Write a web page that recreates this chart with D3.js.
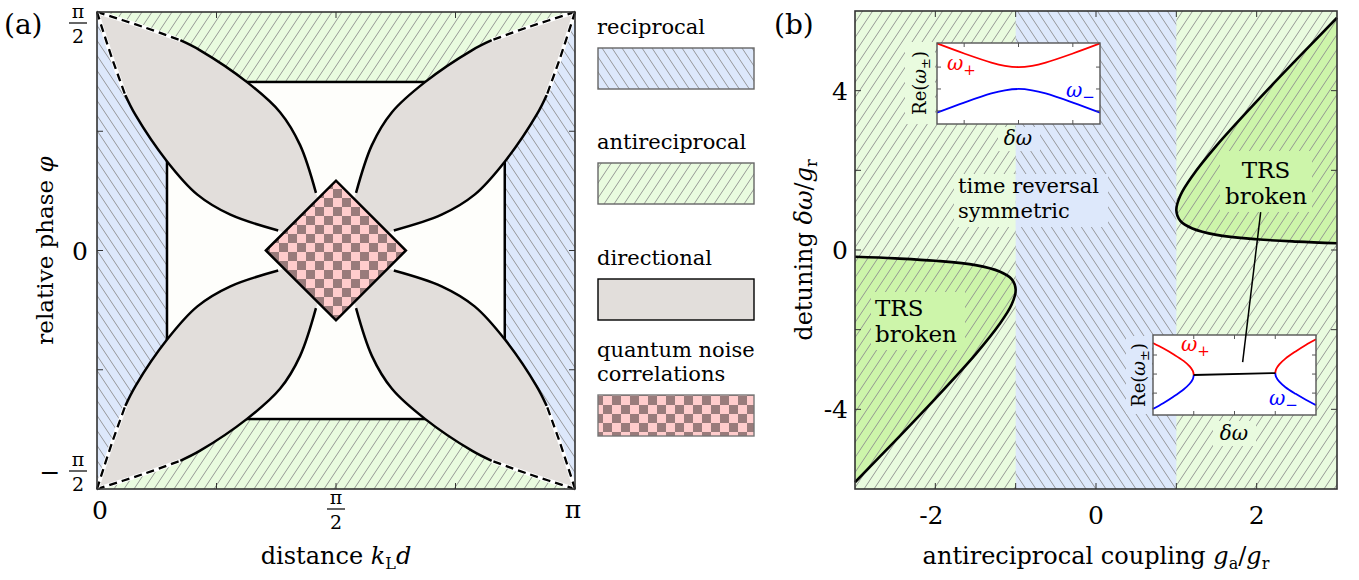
<!DOCTYPE html>
<html>
<head>
<meta charset="utf-8">
<script src="https://cdn.jsdelivr.net/npm/d3@7"></script>
<style>
  body { margin: 0; background: #fff; }
</style>
</head>
<body>
<div id="chart"></div>
<script>
const PI = Math.PI;

// ---------- panel (a): phase diagram over (k_L d, phi) ----------
const kdTicks = [0, PI / 4, PI / 2, 3 * PI / 4, PI];
const phiTicks = [-PI / 2, -PI / 4, 0, PI / 4, PI / 2];
const petalEdge = [[0, 1.571], [0.302, 1.473], [0.547, 1.385], [0.675, 1.320],
  [0.986, 1.109], [1.203, 0.911], [1.335, 0.694], [1.439, 0.380]];
const dashedUpTo = 2;
const innerBox = [0.46, 2.68, -1.11, 1.11];  // kd0, kd1, phi0, phi1
const noiseDiamond = [[1.11, 0], [PI / 2, 0.46], [2.03, 0], [PI / 2, -0.46]];
const legendNames = ["reciprocal", "antireciprocal", "directional", "quantum noise", "correlations"];

// ---------- panel (b): g_a/g_r vs detuning ----------
const gaTicks = [-3, -2, -1, 0, 1, 2, 3];
const gaLabels = [-2, 0, 2];
const dwTicks = [-6, -4, -2, 0, 2, 4, 6];
const dwLabels = [-4, 0, 4];
const recipBand = [-1, 1];
const trsLeft = [[-3, -0.17], [-2.5, -0.21], [-2, -0.27], [-1.5, -0.38], [-1.2, -0.54], [-1.05, -0.73],
  [-1, -1], [-1.05, -1.37], [-1.2, -1.86], [-1.5, -2.62], [-2, -3.73], [-2.5, -4.79], [-3, -5.83]];
const trsRight = [[3, 5.83], [2.5, 4.79], [2, 3.73], [1.5, 2.62], [1.2, 1.86], [1.05, 1.37],
  [1, 1], [1.05, 0.73], [1.2, 0.54], [1.5, 0.38], [2, 0.27], [2.5, 0.21], [3, 0.17]];

// inset 1 (reciprocal side): avoided crossing
const in1Dw = [-3, -2, -1, -0.5, 0, 0.5, 1, 2, 3];
const in1Plus = [3.16, 2.24, 1.41, 1.12, 1, 1.12, 1.41, 2.24, 3.16];
const in1Minus = [-3.16, -2.24, -1.41, -1.12, -1, -1.12, -1.41, -2.24, -3.16];
// inset 2 (TRS broken): level attraction
const in2DwL = [-2, -1.75, -1.5, -1.25, -1.1, -1.02, -1];
const in2PlusL = [1.63, 1.35, 1.04, 0.69, 0.40, 0.15, -0.05];
const in2MinusL = [-1.83, -1.53, -1.19, -0.81, -0.51, -0.25, -0.05];
const in2DwR = [1, 1.02, 1.1, 1.25, 1.5, 1.75, 2];
const in2PlusR = [0.05, 0.25, 0.51, 0.81, 1.19, 1.53, 1.83];
const in2MinusR = [0.05, -0.15, -0.40, -0.69, -1.04, -1.35, -1.63];
const in2Flat = [[-1, -0.05], [1, 0.05]];

// colours
const blueBg = "#dde8fb", greenBg = "#e9fbdf", trsBg = "#cdf5aa", petalFill = "#e2dedb";
const FONT = "DejaVu Serif";

const svg = d3.select("#chart").append("svg").attr("width", 1359).attr("height", 580)
  .attr("font-family", FONT);
const defs = svg.append("defs");

function hatch(id, bg, dir) {
  const p = defs.append("pattern").attr("id", id)
    .attr("patternUnits", "userSpaceOnUse").attr("width", 10).attr("height", 15);
  p.append("rect").attr("width", 10).attr("height", 15).attr("fill", bg);
  const d = dir > 0 ? "M0,15L10,0M-1,1.5L1,-1.5M9,16.5L11,13.5" : "M0,0L10,15M-1,13.5L1,16.5M9,-1.5L11,1.5";
  p.append("path").attr("d", d).attr("stroke", "#8d8d8d").attr("stroke-width", 0.9).attr("fill", "none");
}
hatch("hBlue", blueBg, -1);
hatch("hGreen", greenBg, 1);
hatch("hTrs", trsBg, 1);

const ck = defs.append("pattern").attr("id", "checker")
  .attr("patternUnits", "userSpaceOnUse").attr("width", 18).attr("height", 18);
ck.append("rect").attr("width", 18).attr("height", 18).attr("fill", "#ffcccc");
ck.append("rect").attr("width", 9).attr("height", 9).attr("fill", "#997b7b");
ck.append("rect").attr("x", 9).attr("y", 9).attr("width", 9).attr("height", 9).attr("fill", "#997b7b");

function txt(g, x, y, size, s) {
  return g.append("text").attr("x", x).attr("y", y).attr("font-family", FONT)
    .attr("font-size", size).text(s);
}

// ================= panel (a) =================
const A = {x0: 97, x1: 575, y0: 12, y1: 489};
const xa = d3.scaleLinear().domain([0, PI]).range([A.x0, A.x1]);
const ya = d3.scaleLinear().domain([-PI / 2, PI / 2]).range([A.y1, A.y0]);
const ga = svg.append("g");

const poly = pts => "M" + pts.map(d => xa(d[0]) + "," + ya(d[1])).join("L") + "Z";
const [k0, k1, p0, p1] = innerBox;
ga.append("path").attr("d", poly([[0, PI / 2], [PI, PI / 2], [k1, p1], [k0, p1]])).attr("fill", "url(#hGreen)");
ga.append("path").attr("d", poly([[0, -PI / 2], [PI, -PI / 2], [k1, p0], [k0, p0]])).attr("fill", "url(#hGreen)");
ga.append("path").attr("d", poly([[0, PI / 2], [k0, p1], [k0, p0], [0, -PI / 2]])).attr("fill", "url(#hBlue)");
ga.append("path").attr("d", poly([[PI, PI / 2], [k1, p1], [k1, p0], [PI, -PI / 2]])).attr("fill", "url(#hBlue)");

ga.append("rect")
  .attr("x", xa(k0)).attr("y", ya(p1))
  .attr("width", xa(k1) - xa(k0)).attr("height", ya(p0) - ya(p1))
  .attr("fill", "#fefefb").attr("stroke", "#000").attr("stroke-width", 2.5);

const curve = d3.line().x(d => xa(d[0])).y(d => ya(d[1])).curve(d3.curveCatmullRom.alpha(0.5));
const mirrorDiag = d => [PI / 2 - d[1], PI / 2 - d[0]];
const transforms = [d => d, d => [PI - d[0], d[1]], d => [d[0], -d[1]], d => [PI - d[0], -d[1]]];

const petals = transforms.map(T => {
  const a = petalEdge.map(T);
  const b = petalEdge.map(mirrorDiag).map(T);
  return {a, b};
});

petals.forEach(({a, b}) => {
  const back = b.slice().reverse();
  const d = curve(a) + "L" + xa(PI / 2) + "," + ya(0) + curve(back).replace(/^M/, "L") + "Z";
  ga.append("path").attr("d", d).attr("fill", petalFill);
});

petals.forEach(({a, b}) => {
  [a, b].forEach(pts => {
    ga.append("path").attr("d", curve(pts.slice(dashedUpTo)))
      .attr("fill", "none").attr("stroke", "#000").attr("stroke-width", 2.5);
    ga.append("path").attr("d", curve(pts.slice(0, dashedUpTo + 1)))
      .attr("fill", "none").attr("stroke", "#fff").attr("stroke-width", 4);
    ga.append("path").attr("d", curve(pts.slice(0, dashedUpTo + 1)))
      .attr("fill", "none").attr("stroke", "#000").attr("stroke-width", 2.3)
      .attr("stroke-dasharray", "8,5");
  });
});

ga.append("path").attr("d", poly(noiseDiamond))
  .attr("fill", "url(#checker)").attr("stroke", "#000").attr("stroke-width", 2.5)
  .attr("stroke-linejoin", "miter");

// frame + ticks
ga.append("rect").attr("x", A.x0).attr("y", A.y0)
  .attr("width", A.x1 - A.x0).attr("height", A.y1 - A.y0)
  .attr("fill", "none").attr("stroke", "#333").attr("stroke-width", 1.6);
kdTicks.slice(1, -1).forEach(v => {
  ga.append("line").attr("x1", xa(v)).attr("x2", xa(v)).attr("y1", A.y1).attr("y2", A.y1 - 6).attr("stroke", "#333");
  ga.append("line").attr("x1", xa(v)).attr("x2", xa(v)).attr("y1", A.y0).attr("y2", A.y0 + 6).attr("stroke", "#333");
});
phiTicks.slice(1, -1).forEach(v => {
  ga.append("line").attr("x1", A.x0).attr("x2", A.x0 + 6).attr("y1", ya(v)).attr("y2", ya(v)).attr("stroke", "#333");
  ga.append("line").attr("x1", A.x1).attr("x2", A.x1 - 6).attr("y1", ya(v)).attr("y2", ya(v)).attr("stroke", "#333");
});

function frac(g, cx, barY, num, den, size) {
  txt(g, cx, barY - 5, size, num).attr("text-anchor", "middle");
  g.append("line").attr("x1", cx - 9).attr("x2", cx + 9).attr("y1", barY).attr("y2", barY)
    .attr("stroke", "#000").attr("stroke-width", 1.2);
  txt(g, cx, barY + 20, size, den).attr("text-anchor", "middle");
}

// y tick labels
frac(ga, 78, 23, "π", "2", 19);
txt(ga, 80, ya(0) + 9, 25, "0").attr("text-anchor", "middle");
txt(ga, 50, ya(-PI / 2) - 8, 25, "−").attr("text-anchor", "middle");
frac(ga, 78, ya(-PI / 2) - 18, "π", "2", 19);
// x tick labels
txt(ga, xa(0) + 3, 519, 25, "0").attr("text-anchor", "middle");
frac(ga, xa(PI / 2), 509, "π", "2", 19);
txt(ga, xa(PI) - 2, 518, 25, "π").attr("text-anchor", "middle");

// axis titles
const xt = txt(ga, xa(PI / 2), 564, 24, null).attr("text-anchor", "middle");
xt.append("tspan").text("distance ");
xt.append("tspan").attr("font-style", "italic").text("k");
xt.append("tspan").attr("dy", 5).attr("font-size", 16).text("L");
xt.append("tspan").attr("dy", -5).attr("font-style", "italic").text("d");

const yt = txt(ga, 0, 0, 23, null).attr("transform", `translate(53,${ya(0)}) rotate(-90)`)
  .attr("text-anchor", "middle");
yt.append("tspan").text("relative phase ");
yt.append("tspan").attr("font-style", "italic").text("φ");

txt(svg, 4, 34, 28, "(a)");

// legend
const lg = svg.append("g");
const legendBoxes = [
  {name: legendNames[0], y: 48, fill: "url(#hBlue)", stroke: "#666"},
  {name: legendNames[1], y: 163, fill: "url(#hGreen)", stroke: "#666"},
  {name: legendNames[2], y: 279, fill: petalFill, stroke: "#000"},
  {name: legendNames[3] + "|" + legendNames[4], y: 395, fill: "url(#checker)", stroke: "#777"}
];
legendBoxes.forEach(b => {
  const lines = b.name.split("|");
  lines.forEach((s, i) => {
    txt(lg, 597, b.y - 14 - (lines.length - 1 - i) * 24, 21, s);
  });
  lg.append("rect").attr("x", 598).attr("y", b.y).attr("width", 156).attr("height", 41)
    .attr("fill", b.fill).attr("stroke", b.stroke).attr("stroke-width", 1.4);
});

// ================= panel (b) =================
const B = {x0: 855, x1: 1337, y0: 11, y1: 489};
const xb = d3.scaleLinear().domain([-3, 3]).range([B.x0, B.x1]);
const yb = d3.scaleLinear().domain([-6, 6]).range([B.y1, B.y0]);
const gb = svg.append("g");

gb.append("rect").attr("x", B.x0).attr("y", B.y0).attr("width", B.x1 - B.x0).attr("height", B.y1 - B.y0)
  .attr("fill", "url(#hGreen)");
gb.append("rect").attr("x", xb(recipBand[0])).attr("y", B.y0)
  .attr("width", xb(recipBand[1]) - xb(recipBand[0])).attr("height", B.y1 - B.y0)
  .attr("fill", "url(#hBlue)");

const lineB = d3.line().x(d => xb(d[0])).y(d => yb(d[1])).curve(d3.curveCatmullRom.alpha(0.5));
[trsLeft, trsRight].forEach(pts => {
  gb.append("path").attr("d", lineB(pts) + "Z").attr("fill", "url(#hTrs)");
  gb.append("path").attr("d", lineB(pts)).attr("fill", "none").attr("stroke", "#000").attr("stroke-width", 2.6);
});

function clearBox(x0, y0, x1, y1, color) {
  const segs = color ? [[x0, x1, color]] : [
    [B.x0, xb(recipBand[0]), greenBg], [xb(recipBand[0]), xb(recipBand[1]), blueBg], [xb(recipBand[1]), B.x1, greenBg]];
  segs.forEach(([a, b, c]) => {
    const l = Math.max(a, x0), r = Math.min(b, x1);
    if (r > l) gb.append("rect").attr("x", l).attr("y", y0).attr("width", r - l).attr("height", y1 - y0).attr("fill", c);
  });
}

// region labels
clearBox(954, 174, 1108, 227);
txt(gb, 958, 193, 21, "time reversal");
txt(gb, 958, 218, 21, "symmetric");

clearBox(871, 292, 965, 350, trsBg);
txt(gb, 875, 316, 23, "TRS");
txt(gb, 875, 342, 23, "broken");

clearBox(1220, 151, 1312, 212, trsBg);
txt(gb, 1266, 178, 23, "TRS").attr("text-anchor", "middle");
txt(gb, 1266, 204, 23, "broken").attr("text-anchor", "middle");

// ---- insets ----
function reLabel(g, x, y) {
  const t = txt(g, 0, 0, 18, null).attr("transform", `translate(${x},${y}) rotate(-90)`)
    .attr("text-anchor", "middle");
  t.append("tspan").text("Re(");
  t.append("tspan").attr("font-style", "italic").text("ω");
  t.append("tspan").attr("dy", 4).attr("font-size", 13).text("±");
  t.append("tspan").attr("dy", -4).text(")");
}
function omegaLabel(g, x, y, sign, color) {
  const t = txt(g, x, y, 20, null).attr("fill", color);
  t.append("tspan").attr("font-style", "italic").text("ω");
  t.append("tspan").attr("dy", 5).attr("font-size", 15).text(sign);
}
function dwLabel(g, x, y) {
  txt(g, x, y, 20, "δω").attr("text-anchor", "middle").attr("font-style", "italic");
}
function insetFrame(g, xs, ys, xt, ytk) {
  const [x0, x1] = xs.range(), [y1, y0] = ys.range();
  g.append("rect").attr("x", x0).attr("y", y0).attr("width", x1 - x0).attr("height", y1 - y0).attr("fill", "#fff");
  return () => {
    xt.forEach(v => {
      g.append("line").attr("x1", xs(v)).attr("x2", xs(v)).attr("y1", y1).attr("y2", y1 - 4).attr("stroke", "#555");
      g.append("line").attr("x1", xs(v)).attr("x2", xs(v)).attr("y1", y0).attr("y2", y0 + 4).attr("stroke", "#555");
    });
    ytk.forEach(v => {
      g.append("line").attr("x1", x0).attr("x2", x0 + 4).attr("y1", ys(v)).attr("y2", ys(v)).attr("stroke", "#555");
      g.append("line").attr("x1", x1).attr("x2", x1 - 4).attr("y1", ys(v)).attr("y2", ys(v)).attr("stroke", "#555");
    });
    g.append("rect").attr("x", x0).attr("y", y0).attr("width", x1 - x0).attr("height", y1 - y0)
      .attr("fill", "none").attr("stroke", "#555").attr("stroke-width", 1.4);
  };
}

// inset 1
const xi1 = d3.scaleLinear().domain([-3, 3]).range([937, 1100]);
const yi1 = d3.scaleLinear().domain([-4.2, 3.2]).range([124, 43]);
clearBox(905, 42, 935, 124);
clearBox(998, 127, 1040, 151);
const g1 = gb.append("g");
const finish1 = insetFrame(g1, xi1, yi1, [-2, 0, 2], [-3, -1, 1]);
const l1 = d3.line().x(d => xi1(d[0])).y(d => yi1(d[1])).curve(d3.curveCatmullRom.alpha(0.5));
g1.append("path").attr("d", l1(in1Dw.map((d, i) => [d, in1Plus[i]]))).attr("fill", "none").attr("stroke", "#ff0000").attr("stroke-width", 1.8);
g1.append("path").attr("d", l1(in1Dw.map((d, i) => [d, in1Minus[i]]))).attr("fill", "none").attr("stroke", "#0000ff").attr("stroke-width", 1.8);
finish1();
omegaLabel(g1, 947, 70, "+", "#ff0000");
omegaLabel(g1, 1066, 97, "−", "#0000ff");
reLabel(g1, 926, 83);
dwLabel(g1, 1018, 145);

// inset 2
const xi2 = d3.scaleLinear().domain([-2, 2]).range([1153, 1316]);
const yi2 = d3.scaleLinear().domain([-2.15, 2.05]).range([415, 335]);
clearBox(1126, 336, 1152, 414);
clearBox(1213, 421, 1256, 446);
const g2 = gb.append("g");
const finish2 = insetFrame(g2, xi2, yi2, [-1, 0, 1], [-1, 0, 1]);
const l2 = d3.line().x(d => xi2(d[0])).y(d => yi2(d[1])).curve(d3.curveCatmullRom.alpha(0.5));
[[in2DwL, in2PlusL, "#ff0000"], [in2DwL, in2MinusL, "#0000ff"], [in2DwR, in2PlusR, "#ff0000"], [in2DwR, in2MinusR, "#0000ff"]]
  .forEach(([xs, ys, c]) => {
    g2.append("path").attr("d", l2(xs.map((d, i) => [d, ys[i]]))).attr("fill", "none").attr("stroke", c).attr("stroke-width", 1.8);
  });
g2.append("path").attr("d", l2(in2Flat)).attr("fill", "none").attr("stroke", "#000").attr("stroke-width", 1.8);
finish2();
omegaLabel(g2, 1181, 351, "+", "#ff0000");
omegaLabel(g2, 1269, 405, "−", "#0000ff");
reLabel(g2, 1145, 375);
dwLabel(g2, 1234, 440);

// pointer from right TRS label into inset 2
gb.append("line")
  .attr("x1", xb(2.05)).attr("y1", yb(0.95))
  .attr("x2", xi2(0.2)).attr("y2", yi2(0.63))
  .attr("stroke", "#000").attr("stroke-width", 1.5);

// frame + ticks
gb.append("rect").attr("x", B.x0).attr("y", B.y0).attr("width", B.x1 - B.x0).attr("height", B.y1 - B.y0)
  .attr("fill", "none").attr("stroke", "#333").attr("stroke-width", 1.6);
gaTicks.slice(1, -1).forEach(v => {
  gb.append("line").attr("x1", xb(v)).attr("x2", xb(v)).attr("y1", B.y1).attr("y2", B.y1 - 6).attr("stroke", "#333");
  gb.append("line").attr("x1", xb(v)).attr("x2", xb(v)).attr("y1", B.y0).attr("y2", B.y0 + 6).attr("stroke", "#333");
});
dwTicks.slice(1, -1).forEach(v => {
  gb.append("line").attr("x1", B.x0).attr("x2", B.x0 + 6).attr("y1", yb(v)).attr("y2", yb(v)).attr("stroke", "#333");
  gb.append("line").attr("x1", B.x1).attr("x2", B.x1 - 6).attr("y1", yb(v)).attr("y2", yb(v)).attr("stroke", "#333");
});
gaLabels.forEach(v => {
  txt(gb, xb(v) - (v < 0 ? 4 : 0), 524, 25, v < 0 ? "-" + Math.abs(v) : v).attr("text-anchor", "middle");
});
dwLabels.forEach(v => {
  txt(gb, 848, yb(v) + 9, 25, v < 0 ? "-" + Math.abs(v) : v).attr("text-anchor", "end");
});

const bx = txt(gb, xb(0), 564, 24, null).attr("text-anchor", "middle");
bx.append("tspan").text("antireciprocal coupling ");
bx.append("tspan").attr("font-style", "italic").text("g");
bx.append("tspan").attr("dy", 5).attr("font-size", 16).text("a");
bx.append("tspan").attr("dy", -5).text("/");
bx.append("tspan").attr("font-style", "italic").text("g");
bx.append("tspan").attr("dy", 5).attr("font-size", 16).text("r");

const by = txt(gb, 0, 0, 24, null).attr("transform", `translate(812,${yb(0)}) rotate(-90)`)
  .attr("text-anchor", "middle");
by.append("tspan").text("detuning ");
by.append("tspan").attr("font-style", "italic").text("δω");
by.append("tspan").text("/");
by.append("tspan").attr("font-style", "italic").text("g");
by.append("tspan").attr("dy", 5).attr("font-size", 16).text("r");

txt(svg, 774, 34, 28, "(b)");
</script>
</body>
</html>
